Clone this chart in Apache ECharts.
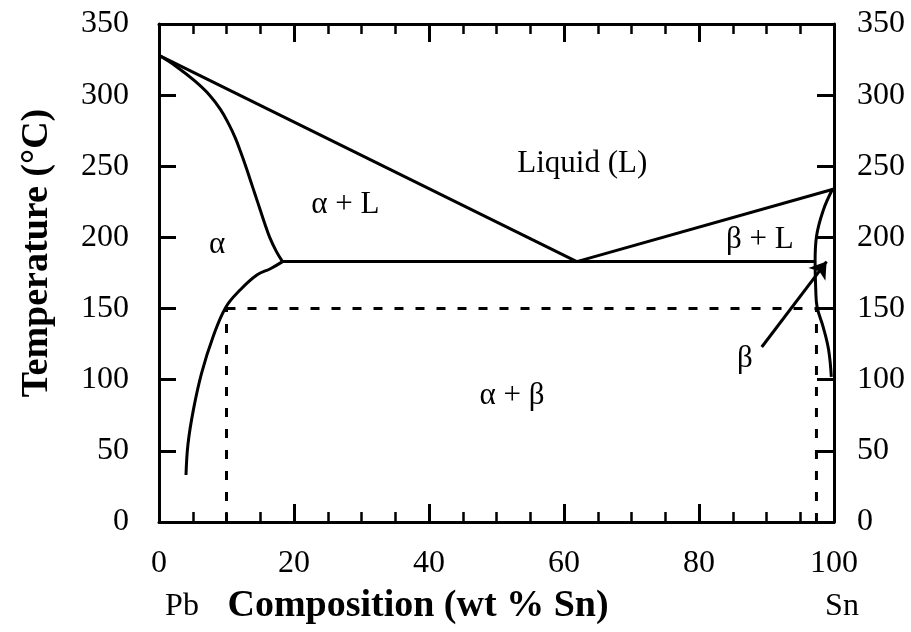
<!DOCTYPE html>
<html>
<head>
<meta charset="utf-8">
<script src="https://cdn.jsdelivr.net/npm/echarts@6.0.0/dist/echarts.min.js"></script>
<style>
html, body { margin: 0; padding: 0; background: #fff; }
#chart { width: 911px; height: 632px; }
</style>
</head>
<body>
<div id="chart"></div>
<script>
// Pb-Sn phase diagram (wt % Sn, degrees C)
var liquidusLeft  = [[0, 328], [61.9, 183]];
var liquidusRight = [[61.9, 183], [100, 234]];
var eutecticLine  = [[18.3, 183], [97.2, 183]];
var solidusAlpha  = [[0, 328], [2.6, 320], [5.3, 310], [7.5, 300], [9.1, 290], [10.3, 280],
                     [11.3, 270], [12.1, 260], [12.85, 250], [13.55, 240], [14.25, 230], [14.95, 220],
                     [15.65, 210], [16.4, 200], [17.4, 190], [18.3, 183]];
var solvusAlpha   = [[18.3, 183], [16.5, 178], [14.5, 173.6], [12.0, 163], [9.9, 151], [8.0, 130],
                     [6.3, 104.5], [5.1, 79], [4.3, 55], [4.0, 33]];
var solvusBeta    = [[99.8, 234], [98.4, 219], [97.4, 200.5], [97.2, 183], [97.3, 163], [97.5, 151],
                     [98.4, 137], [99.2, 121], [99.6, 102]];
var dashH  = [[10, 150], [97.4, 150]];
var dashV1 = [[10, 0], [10, 150]];
var dashV2 = [[97.4, 0], [97.4, 150]];
var arrowLine = [[89.3, 123], [98.9, 183]];

var regionLabels = [
    { name: 'Liquid (L)', value: [62.7, 252] },
    { name: '\u03b1 + L', value: [27.6, 223] },
    { name: '\u03b1', value: [8.6, 195] },
    { name: '\u03b2 + L', value: [89, 198] },
    { name: '\u03b2', value: [86.8, 115] },
    { name: '\u03b1 + \u03b2', value: [52.3, 89] }
];

var xMin = 0, xMax = 100, xStep = 20;
var yMin = 0, yMax = 350, yStep = 50;

var serif = 'Liberation Serif';

function solid(data, smooth) {
    return {
        type: 'line', data: data, smooth: smooth || false, showSymbol: false,
        symbol: 'none', silent: true,
        lineStyle: { color: '#000', width: 3 }
    };
}

function dashed(data) {
    return {
        type: 'line', data: data, showSymbol: false, symbol: 'none', silent: true,
        lineStyle: { color: '#000', width: 3, type: [9, 12] }
    };
}

function xAxisDef(pos, labels) {
    return {
        type: 'value', position: pos, min: xMin, max: xMax, interval: xStep,
        axisLine: { onZero: false, lineStyle: { color: '#000', width: 3 } },
        axisTick: { inside: true, length: 18, lineStyle: { color: '#000', width: 3 } },
        minorTick: { show: true, splitNumber: 4, length: 10, lineStyle: { color: '#000', width: 2.5 } },
        splitLine: { show: false },
        axisLabel: { show: labels, color: '#000', fontFamily: serif, fontSize: 32, margin: 26 }
    };
}

function yAxisDef(pos, margin) {
    return {
        type: 'value', position: pos, min: yMin, max: yMax, interval: yStep,
        axisLine: { onZero: false, lineStyle: { color: '#000', width: 3 } },
        axisTick: { inside: true, length: 17, lineStyle: { color: '#000', width: 3 } },
        splitLine: { show: false },
        axisLabel: { color: '#000', fontFamily: serif, fontSize: 32, margin: margin }
    };
}

var myChart = echarts.init(document.getElementById('chart'));

var option = {
    animation: false,
    backgroundColor: '#fff',
    grid: { left: 159, right: 77, top: 24, bottom: 110 },
    xAxis: [xAxisDef('bottom', true), xAxisDef('top', false)],
    yAxis: [yAxisDef('left', 30), yAxisDef('right', 23)],
    series: [
        solid(liquidusLeft),
        solid(liquidusRight),
        solid(eutecticLine),
        solid(solidusAlpha, 0.4),
        solid(solvusAlpha, 0.4),
        solid(solvusBeta, 0.4),
        dashed(dashH),
        dashed(dashV1),
        dashed(dashV2),
        {
            type: 'lines', coordinateSystem: 'cartesian2d', silent: true,
            symbol: ['none', 'arrow'], symbolSize: [10, 16],
            lineStyle: { color: '#000', width: 3, opacity: 1 },
            data: [{ coords: arrowLine }]
        },
        {
            type: 'scatter', data: regionLabels, symbolSize: 1, silent: true,
            itemStyle: { color: 'rgba(0,0,0,0)', opacity: 1 },
            label: {
                show: true, position: 'inside', formatter: '{b}', opacity: 1,
                color: '#000', fontFamily: serif, fontSize: 31
            }
        }
    ],
    graphic: [
        {
            type: 'text', x: 37, y: 253, rotation: Math.PI / 2,
            style: { text: 'Temperature (\u00b0C)', fill: '#000', font: 'bold 38px "Liberation Serif"',
                     align: 'center', verticalAlign: 'middle' }
        },
        {
            type: 'text', x: 418, y: 606,
            style: { text: 'Composition (wt % Sn)', fill: '#000', font: 'bold 38px "Liberation Serif"',
                     align: 'center', verticalAlign: 'middle' }
        },
        {
            type: 'text', x: 182, y: 607,
            style: { text: 'Pb', fill: '#000', font: '32px "Liberation Serif"', align: 'center', verticalAlign: 'middle' }
        },
        {
            type: 'text', x: 842, y: 607,
            style: { text: 'Sn', fill: '#000', font: '32px "Liberation Serif"', align: 'center', verticalAlign: 'middle' }
        }
    ]
};

myChart.setOption(option);
</script>
</body>
</html>
